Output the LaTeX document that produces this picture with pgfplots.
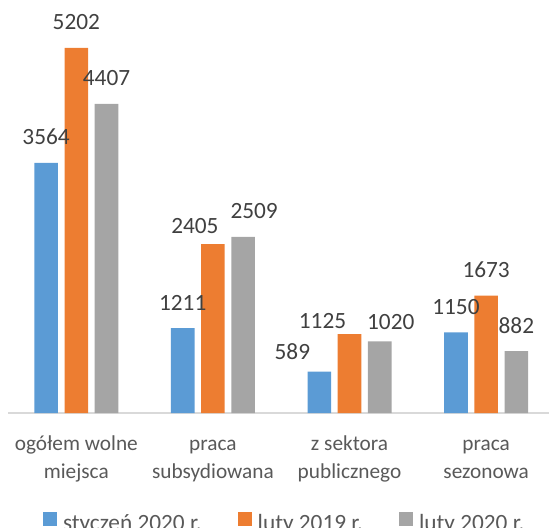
\documentclass[border=0pt]{standalone}
\usepackage{fontspec}
\setmainfont{Carlito}
\usepackage{pgfplots}
\pgfplotsset{compat=1.18}

\definecolor{cblue}{HTML}{5B9BD5}
\definecolor{corange}{HTML}{ED7D31}
\definecolor{cgray}{HTML}{A5A5A5}
\definecolor{labtxt}{HTML}{404040}
\definecolor{cattxt}{HTML}{595959}
\definecolor{axline}{HTML}{D9D9D9}

% x: category, y: value, dx/dy: label offset (Excel moved some labels)
\pgfplotstableread{
x y dx dy
0 3564 0 17.6
1 1211 0 17.6
2 589 -27 12.3
3 1150 0 17.6
}\styczen
\pgfplotstableread{
x y dx dy
0 5202 0 17.8
1 2405 -18 10
2 1125 -27 5
3 1673 0 18
}\luty
\pgfplotstableread{
x y dx dy
0 4407 0 17.6
1 2509 11 17.7
2 1020 11 12
3 882 0 17.7
}\lutyb

\begin{document}
\begin{tikzpicture}
\begin{axis}[
  name=ax,
  scale only axis,
  width=541bp, height=413bp,
  ybar=6.6bp, bar width=23.6bp,
  xmin=-0.5, xmax=3.46,
  ymin=0, ymax=5886,
  enlargelimits=false,
  axis x line=bottom, axis y line=none,
  x axis line style={-, draw=axline, line width=1.3bp},
  major tick length=0pt,
  xtick={0,1,2,3},
  xticklabels={{\strut ogółem wolne\\miejsca},{\strut praca\\subsydiowana},{\strut z sektora\\publicznego},{\strut praca\\sezonowa}},
  xticklabel style={align=center, anchor=north, inner sep=0pt, yshift=-18bp,
    font=\fontsize{21.3bp}{28bp}\selectfont, text=cattxt},
  /pgf/number format/.cd, 1000 sep={}, assume math mode=true, /pgfplots/.cd,
  nodes near coords,
  every node near coord/.append style={font=\fontsize{23.3bp}{27bp}\selectfont,
    text=labtxt, anchor=south, inner sep=0pt},
  visualization depends on={\thisrow{dx}\as\dx},
  visualization depends on={\thisrow{dy}\as\dy},
  every node near coord/.append style={xshift=\dx bp, yshift=\dy bp},
  legend columns=3,
  legend style={draw=none, inner sep=0pt, outer sep=0pt,
    at={(0.0647,-0.2386)}, anchor=north west,
    font=\fontsize{23.3bp}{27bp}\selectfont, text=cattxt,
    nodes={inner sep=0pt},
    /tikz/every odd column/.append style={column sep=6bp},
    /tikz/every even column/.append style={column sep=36bp}},
  legend image code/.code={\fill[#1] (0bp,-2bp) rectangle (14bp,12bp);},
]
\addplot[fill=cblue, draw=none] table[x=x, y=y] {\styczen};
\addplot[fill=corange, draw=none] table[x=x, y=y] {\luty};
\addplot[fill=cgray, draw=none] table[x=x, y=y] {\lutyb};
\legend{styczeń 2020 r., luty 2019 r., luty 2020 r.}
\end{axis}
\pgfresetboundingbox
\path[use as bounding box] ([xshift=-8bp,yshift=-115bp]ax.south west) rectangle (ax.north east);
\end{tikzpicture}
\end{document}
